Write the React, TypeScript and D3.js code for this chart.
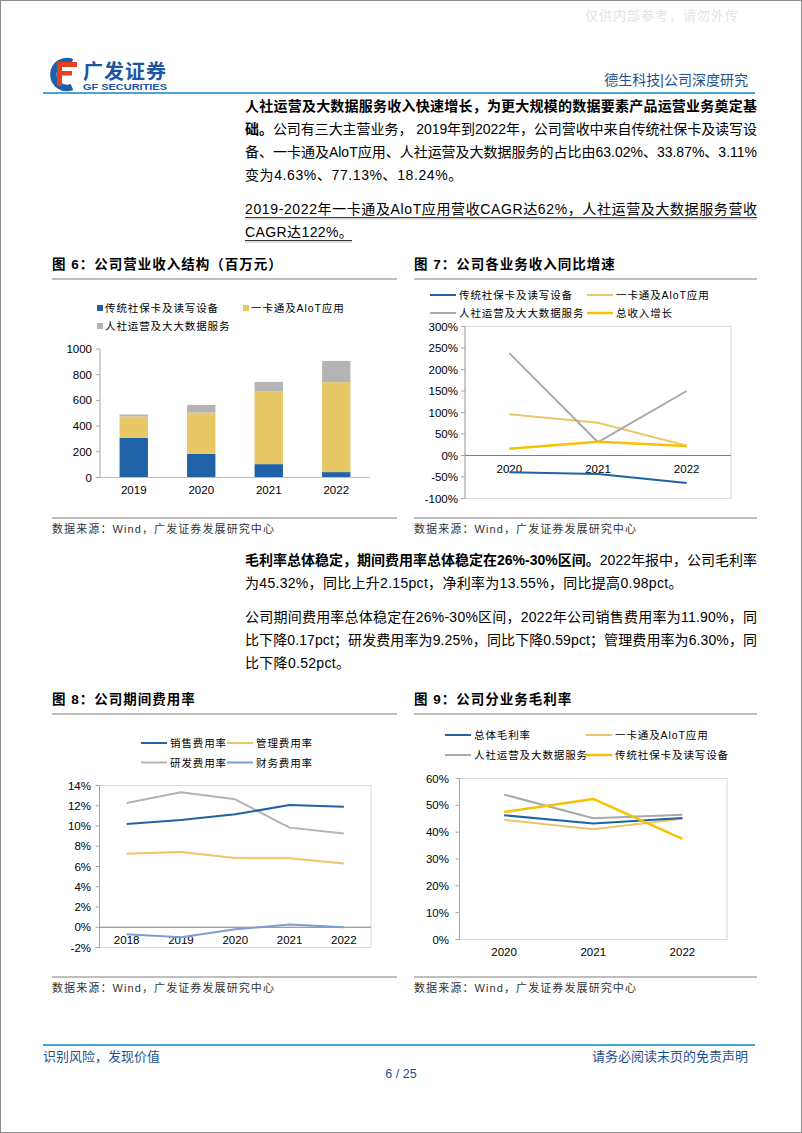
import React from 'react';
import * as d3 from 'd3';

// ---------- data ----------
const years6 = ['2019', '2020', '2021', '2022'];
const trad6 = [309, 184, 104, 42];
const aiot6 = [166, 321, 564, 700];
const rs6 = [15, 60, 76, 165];
const ticks6 = [0, 200, 400, 600, 800, 1000];

const years7 = ['2020', '2021', '2022'];
const trad7 = [-39, -43, -64];
const aiot7 = [96, 76, 23];
const rs7 = [238, 31, 150];
const total7 = [15.6, 31.7, 21.9];
const ticks7 = [-100, -50, 0, 50, 100, 150, 200, 250, 300];

const years8 = ['2018', '2019', '2020', '2021', '2022'];
const sales8 = [10.2, 10.6, 11.15, 12.07, 11.9];
const admin8 = [7.26, 7.43, 6.83, 6.82, 6.3];
const rd8 = [12.28, 13.33, 12.64, 9.84, 9.25];
const fin8 = [-0.69, -0.99, -0.2, 0.26, 0.0];
const ticks8 = [-2, 0, 2, 4, 6, 8, 10, 12, 14];

const years9 = ['2020', '2021', '2022'];
const total9 = [46.3, 43.2, 45.3];
const aiot9 = [44.6, 41.1, 45.0];
const rs9 = [54.0, 45.2, 46.5];
const trad9 = [47.5, 52.4, 37.5];
const ticks9 = [0, 10, 20, 30, 40, 50, 60];

// ---------- styles ----------
const FONT = "'Liberation Sans','Noto Sans CJK SC',sans-serif";
const BLUE = '#1f62a5';
const LYEL = '#e8c766';
const GRAY = '#a9a9a9';
const GOLD = '#f7c300';
const LBLUE = '#7e9dd3';
const HEAD = '#1f4f8f';
const RULE = '#4aa3d4';

function StackedBars() {
  const x = d3.scaleBand().domain(years6).range([100, 370]).paddingInner(0.58).paddingOuter(0.29);
  const y = d3.scaleLinear().domain([0, 1000]).range([477.5, 349]);
  const stack = d3.stack<any>().keys(['trad', 'aiot', 'rs'])(
    years6.map((yr, i) => ({ yr, trad: trad6[i], aiot: aiot6[i], rs: rs6[i] }))
  );
  const colors = [BLUE, LYEL, '#b4b4b4'];
  const legend = [
    { t: '传统社保卡及读写设备', c: BLUE, x: 97, y: 308 },
    { t: '一卡通及AloT应用', c: LYEL, x: 243, y: 308 },
    { t: '人社运营及大大数据服务', c: '#b4b4b4', x: 97, y: 326 },
  ];
  return (
    <g>
      {legend.map((l, i) => (
        <g key={i}>
          <rect x={l.x} y={l.y - 3} width={6} height={6} fill={l.c} />
          <text x={l.x + 8} y={l.y + 4} fontSize={10.5} letterSpacing={0.9} fontFamily={FONT}>{l.t}</text>
        </g>
      ))}
      {stack.map((s, si) =>
        s.map((d, i) => (
          <rect key={si + '-' + i} x={x(years6[i])} width={x.bandwidth()} y={y(d[1])} height={y(d[0]) - y(d[1])} fill={colors[si]} />
        ))
      )}
      <line x1={100} x2={100} y1={349} y2={477.5} stroke="#a6a6a6" />
      <line x1={100} x2={370} y1={477.5} y2={477.5} stroke="#bfbfbf" />
      {ticks6.map((t) => (
        <g key={t}>
          <line x1={96} x2={100} y1={y(t)} y2={y(t)} stroke="#a6a6a6" />
          <text x={92} y={y(t) + 4} textAnchor="end" fontSize={11.5} fontFamily={FONT}>{t}</text>
        </g>
      ))}
      {years6.map((yr) => (
        <text key={yr} x={(x(yr) as number) + x.bandwidth() / 2} y={494} textAnchor="middle" fontSize={11.5} fontFamily={FONT}>{yr}</text>
      ))}
    </g>
  );
}

type Series = { v: number[]; c: string; w: number };
type Leg = { t: string; c: string; w: number; x: number; y: number };

function LineChart(props: {
  x0: number; x1: number; y0: number; y1: number; years: string[]; domain: [number, number];
  ticks: number[]; series: Series[]; legend: Leg[]; xLabelY: number; zero: boolean; labelX: number;
}) {
  const { x0, x1, y0, y1, years, domain, ticks, series, legend, xLabelY, zero, labelX } = props;
  const x = d3.scalePoint().domain(years).range([x0, x1]).padding(0.5);
  const y = d3.scaleLinear().domain(domain).range([y1, y0]);
  return (
    <g>
      {legend.map((l, i) => (
        <g key={i}>
          <line x1={l.x} x2={l.x + 26} y1={l.y} y2={l.y} stroke={l.c} strokeWidth={l.w} />
          <text x={l.x + 29} y={l.y + 4} fontSize={10.5} letterSpacing={0.9} fontFamily={FONT}>{l.t}</text>
        </g>
      ))}
      <rect x={x0} y={y0} width={x1 - x0} height={y1 - y0} fill="none" stroke="#d9d9d9" />
      <line x1={x0} x2={x0} y1={y0} y2={y1} stroke="#a6a6a6" />
      {ticks.map((t) => (
        <g key={t}>
          <line x1={x0 - 4} x2={x0} y1={y(t)} y2={y(t)} stroke="#a6a6a6" />
          <text x={labelX} y={y(t) + 4} textAnchor="end" fontSize={11.5} fontFamily={FONT}>{t + '%'}</text>
        </g>
      ))}
      {zero && <line x1={x0} x2={x1} y1={y(0)} y2={y(0)} stroke="#7f7f7f" />}
      {years.map((yr) => (
        <text key={yr} x={x(yr)} y={xLabelY} textAnchor="middle" fontSize={11.5} fontFamily={FONT}>{yr}</text>
      ))}
      {series.map((s, i) => {
        const line = d3.line<number>().x((_, j) => x(years[j]) as number).y((v) => y(v));
        return <path key={i} d={line(s.v) || ''} fill="none" stroke={s.c} strokeWidth={s.w} strokeLinejoin="round" />;
      })}
    </g>
  );
}

function Title({ x, y, t, x2 }: { x: number; y: number; t: string; x2: number }) {
  return (
    <g>
      <text x={x} y={y} fontSize={13.5} fontWeight="bold" letterSpacing={1} fontFamily={FONT}>{t}</text>
      <line x1={x} x2={x2} y1={y + 10} y2={y + 10} stroke="#7f7f7f" />
    </g>
  );
}

function Source({ x, y, x2 }: { x: number; y: number; x2: number }) {
  return (
    <g>
      <line x1={x} x2={x2} y1={y - 11} y2={y - 11} stroke="#7f7f7f" />
      <text x={x} y={y + 4} fontSize={11} letterSpacing={1.1} fill="#333" fontFamily={FONT}>数据来源：Wind，广发证券发展研究中心</text>
    </g>
  );
}

export default function App() {
  const bodyFs = 14;
  return (
    <svg width={802} height={1133} style={{ position: 'absolute', left: 0, top: 0, background: '#fff' }} fontFamily={FONT}>
      <rect x={0.5} y={0.5} width={801} height={1132} fill="#fff" stroke="#8c8c8c" />
      {/* watermark */}
      <text x={739} y={20} textAnchor="end" fontSize={13} letterSpacing={1} fill="#e4e4e4">仅供内部参考，请勿外传</text>
      {/* logo */}
      <g>
        <path d="M 72 62 A 13.5 13.5 0 1 0 72 87" fill="none" stroke="#1f5fa8" strokeWidth={6.5} />
        <rect x={57} y={62} width={20} height={5} fill="#e8401c" />
        <rect x={57} y={62} width={5} height={24} fill="#e8401c" />
        <rect x={57} y={71} width={15} height={4.5} fill="#e8401c" />
        <text x={83} y={79} fontSize={20} fontWeight="bold" fill="#1c55a3" letterSpacing={1}>广发证券</text>
        <text x={83} y={90} fontSize={8.5} fontWeight="bold" fill="#1c55a3" textLength={84} lengthAdjust="spacingAndGlyphs">GF SECURITIES</text>
      </g>
      <text x={748} y={85} textAnchor="end" fontSize={14} fill={HEAD}>德生科技|公司深度研究</text>
      <line x1={43} x2={755} y1={93} y2={93} stroke={RULE} strokeWidth={2} />

      {/* body paragraph 1 */}
      <text x={245} y={111} fontSize={bodyFs} fontWeight="bold" textLength={512} lengthAdjust="spacing">人社运营及大数据服务收入快速增长，为更大规模的数据要素产品运营业务奠定基</text>
      <text x={245} y={134} fontSize={bodyFs} textLength={512} lengthAdjust="spacing">
        <tspan fontWeight="bold">础。</tspan>公司有三大主营业务， 2019年到2022年，公司营收中来自传统社保卡及读写设
      </text>
      <text x={245} y={157} fontSize={bodyFs} textLength={512} lengthAdjust="spacing">备、一卡通及AloT应用、人社运营及大数据服务的占比由63.02%、33.87%、3.11%</text>
      <text x={245} y={180} fontSize={bodyFs} letterSpacing={0.6}>变为4.63%、77.13%、18.24%。</text>
      <text x={245} y={214} fontSize={bodyFs} textLength={512} lengthAdjust="spacing">2019-2022年一卡通及AloT应用营收CAGR达62%，人社运营及大数据服务营收</text>
      <line x1={245} x2={757} y1={217.5} y2={217.5} stroke="#333" strokeWidth={1} />
      <line x1={245} x2={757} y1={219} y2={219} stroke="#bbb" strokeWidth={1} />
      <text x={245} y={237} fontSize={bodyFs} letterSpacing={0.4}>CAGR达122%。</text>
      <line x1={245} x2={352} y1={240.5} y2={240.5} stroke="#333" strokeWidth={1} />
      <line x1={245} x2={352} y1={242} y2={242} stroke="#bbb" strokeWidth={1} />

      {/* figure 6 & 7 */}
      <Title x={52} y={269} t="图 6：公司营业收入结构（百万元）" x2={397} />
      <Title x={414} y={269} t="图 7：公司各业务收入同比增速" x2={757} />
      <StackedBars />
      <LineChart
        x0={465} x1={731} y0={326.5} y1={498.5} years={years7} domain={[-100, 300]} ticks={ticks7}
        labelX={458} xLabelY={473} zero={true}
        series={[
          { v: aiot7, c: LYEL, w: 2 },
          { v: rs7, c: GRAY, w: 2 },
          { v: total7, c: GOLD, w: 2.5 },
          { v: trad7, c: BLUE, w: 2 },
        ]}
        legend={[
          { t: '传统社保卡及读写设备', c: BLUE, w: 2, x: 430, y: 295 },
          { t: '一卡通及AloT应用', c: LYEL, w: 2, x: 587, y: 295 },
          { t: '人社运营及大大数据服务', c: GRAY, w: 2, x: 430, y: 313 },
          { t: '总收入增长', c: GOLD, w: 2.5, x: 587, y: 313 },
        ]}
      />
      <Source x={52} y={529} x2={397} />
      <Source x={414} y={529} x2={757} />

      {/* body paragraph 2 */}
      <text x={245} y={565} fontSize={bodyFs} textLength={512} lengthAdjust="spacing">
        <tspan fontWeight="bold">毛利率总体稳定，期间费用率总体稳定在26%-30%区间。</tspan>2022年报中，公司毛利率
      </text>
      <text x={245} y={588} fontSize={bodyFs} letterSpacing={0.3}>为45.32%，同比上升2.15pct，净利率为13.55%，同比提高0.98pct。</text>
      <text x={245} y={622} fontSize={bodyFs} textLength={512} lengthAdjust="spacing">公司期间费用率总体稳定在26%-30%区间，2022年公司销售费用率为11.90%，同</text>
      <text x={245} y={645} fontSize={bodyFs} textLength={512} lengthAdjust="spacing">比下降0.17pct；研发费用率为9.25%，同比下降0.59pct；管理费用率为6.30%，同</text>
      <text x={245} y={668} fontSize={bodyFs} letterSpacing={0.3}>比下降0.52pct。</text>

      {/* figure 8 & 9 */}
      <Title x={52} y={704} t="图 8：公司期间费用率" x2={397} />
      <Title x={414} y={704} t="图 9：公司分业务毛利率" x2={757} />
      <LineChart
        x0={99.5} x1={371} y0={785.5} y1={947.5} years={years8} domain={[-2, 14]} ticks={ticks8}
        labelX={91} xLabelY={944} zero={true}
        series={[
          { v: admin8, c: LYEL, w: 2 },
          { v: rd8, c: '#b3b3b3', w: 2 },
          { v: fin8, c: LBLUE, w: 2 },
          { v: sales8, c: BLUE, w: 2 },
        ]}
        legend={[
          { t: '销售费用率', c: BLUE, w: 2, x: 141, y: 743 },
          { t: '管理费用率', c: LYEL, w: 2, x: 227, y: 743 },
          { t: '研发费用率', c: '#b3b3b3', w: 2, x: 141, y: 762.5 },
          { t: '财务费用率', c: LBLUE, w: 2, x: 227, y: 762.5 },
        ]}
      />
      <LineChart
        x0={459.5} x1={727} y0={778.5} y1={939.5} years={years9} domain={[0, 60]} ticks={ticks9}
        labelX={449} xLabelY={956} zero={false}
        series={[
          { v: rs9, c: GRAY, w: 2 },
          { v: aiot9, c: LYEL, w: 2 },
          { v: total9, c: BLUE, w: 2 },
          { v: trad9, c: GOLD, w: 2.5 },
        ]}
        legend={[
          { t: '总体毛利率', c: BLUE, w: 2, x: 445, y: 735 },
          { t: '一卡通及AloT应用', c: LYEL, w: 2, x: 586, y: 735 },
          { t: '人社运营及大数据服务', c: GRAY, w: 2, x: 445, y: 755 },
          { t: '传统社保卡及读写设备', c: GOLD, w: 2.5, x: 586, y: 755 },
        ]}
      />
      <Source x={52} y={988} x2={397} />
      <Source x={414} y={988} x2={757} />

      {/* footer */}
      <line x1={43} x2={755} y1={1045} y2={1045} stroke={RULE} strokeWidth={2} />
      <text x={43} y={1061} fontSize={13} fill={HEAD}>识别风险，发现价值</text>
      <text x={748} y={1061} textAnchor="end" fontSize={13} fill={HEAD}>请务必阅读末页的免责声明</text>
      <text x={401} y={1078} textAnchor="middle" fontSize={12.5} fill={HEAD}>6 / 25</text>
    </svg>
  );
}
